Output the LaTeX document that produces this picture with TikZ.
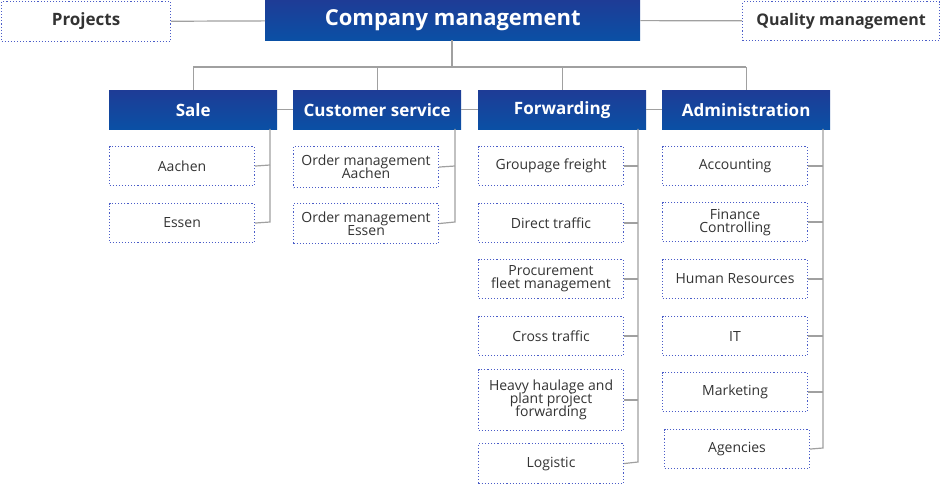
\documentclass[tikz,border=0pt]{standalone}
\usepackage{fontspec}
\setmainfont{Open Sans}
\usetikzlibrary{positioning}
\definecolor{headblue}{HTML}{1E3C96}
\definecolor{headblue2}{HTML}{0A50A5}
\definecolor{dotblue}{HTML}{4A5CC8}
\definecolor{linegray}{HTML}{A0A0A0}
\definecolor{txtgray}{HTML}{333333}

\begin{document}
\begin{tikzpicture}[x=1pt,y=-1pt,
    head/.style={draw=none,top color=headblue,bottom color=headblue2,text=white,font=\bfseries,anchor=north west,inner sep=0pt},
    unit/.style={draw=dotblue,dotted,line width=1.1pt,text=txtgray,anchor=north west,inner sep=0pt,align=center,font=\fontsize{14}{16}\selectfont},
    link/.style={draw=linegray,line width=1.2pt}]
    \useasboundingbox (0,0) rectangle (940,484);

    % top row
    \node[head,minimum width=375,minimum height=40,font=\bfseries\fontsize{22}{24}\selectfont] (cm) at (265,0) {Company management};
    \node[unit,minimum width=169,minimum height=40,font=\bfseries\fontsize{17}{19}\selectfont] (proj) at (1,1) {Projects};
    \node[unit,minimum width=197,minimum height=39,font=\bfseries\fontsize{16}{18}\selectfont] (qm) at (742,1) {Quality management};
    \draw[link] (proj) -- (cm);
    \draw[link] (cm) -- (qm);

    % departments
    \foreach \name/\x/\txt in {sale/109/Sale, cs/293/Customer service, fw/478/Forwarding, adm/662/Administration}
        \node[head,minimum width=168,minimum height=39,font=\bfseries\fontsize{17}{19}\selectfont] (\name) at (\x,90) {\txt};
    \coordinate (bus) at (452,67);
    \draw[link] (cm.south -| bus) -- (bus);
    \draw[link] (sale.north |- bus) -- (adm.north |- bus);
    \foreach \name in {sale,cs,fw,adm}
        \draw[link] (\name.north |- bus) -- (\name.north);
    \draw[link] (sale) -- (cs);
    \draw[link] (cs) -- (fw);
    \draw[link] (fw) -- (adm);

    % sale
    \node[unit,minimum width=145,minimum height=39] (s1) at (109,146) {Aachen};
    \node[unit,minimum width=145,minimum height=39] (s2) at (109,203) {Essen};
    \draw[link] (270,129) -- (270,222) -- (s2.east);
    \draw[link] (s1.east) -- (270,165);

    % customer service
    \node[unit,minimum width=145,minimum height=41] (c1) at (293,146) {Order management\\[-3pt]Aachen};
    \node[unit,minimum width=145,minimum height=40] (c2) at (293,203) {Order management\\[-3pt]Essen};
    \draw[link] (455,129) -- (455,222) -- (c2.east);
    \draw[link] (c1.east) -- (455,166);

    % forwarding
    \node[unit,minimum width=145,minimum height=39] (f1) at (478,146) {Groupage freight};
    \node[unit,minimum width=145,minimum height=39] (f2) at (478,203) {Direct traffic};
    \node[unit,minimum width=145,minimum height=39] (f3) at (478,259) {Procurement\\[-3pt]fleet management};
    \node[unit,minimum width=145,minimum height=39] (f4) at (478,316) {Cross traffic};
    \node[unit,minimum width=145,minimum height=61] (f5) at (478,369) {Heavy haulage and\\[-3pt]plant project\\[-3pt]forwarding};
    \node[unit,minimum width=145,minimum height=40] (f6) at (478,443) {Logistic};
    \draw[link] (638,129) -- (638,462) -- (f6.east);
    \foreach \n in {f1,f2,f3,f4,f5}
        \draw[link] (\n.east) -- (\n.east -| 638,0);

    % administration
    \node[unit,minimum width=145,minimum height=39] (a1) at (662,146) {Accounting};
    \node[unit,minimum width=145,minimum height=39] (a2) at (662,202) {Finance\\[-3pt]Controlling};
    \node[unit,minimum width=145,minimum height=39] (a3) at (662,259) {Human Resources};
    \node[unit,minimum width=145,minimum height=39] (a4) at (662,316) {IT};
    \node[unit,minimum width=145,minimum height=39] (a5) at (662,372) {Marketing};
    \node[unit,minimum width=145,minimum height=39] (a6) at (664,429) {Agencies};
    \draw[link] (823,129) -- (823,448) -- (a6.east);
    \foreach \n in {a1,a2,a3,a4,a5}
        \draw[link] (\n.east) -- (\n.east -| 823,0);
\end{tikzpicture}
\end{document}
